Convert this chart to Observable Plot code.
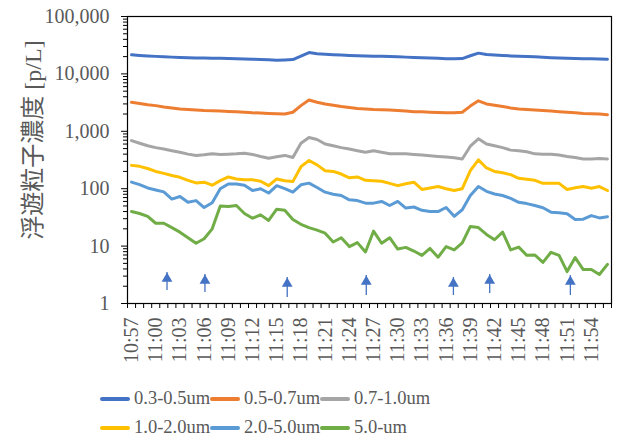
<!DOCTYPE html>
<html>
<head>
<meta charset="utf-8">
<script src="https://cdn.jsdelivr.net/npm/d3@7"></script>
<script src="https://cdn.jsdelivr.net/npm/@observablehq/plot@0.6"></script>
<style>
  html, body { margin: 0; padding: 0; background: #fff; }
  #wrap { position: relative; width: 621px; height: 441px; overflow: hidden; }
  #ytitle {
    position: absolute; left: 30px; top: 140px;
    transform: translate(-50%, -50%) rotate(-90deg);
    white-space: nowrap; font-family: "Liberation Serif", "Noto Sans CJK JP", serif;
    font-size: 24px; color: #595959;
  }
  #legend { position: absolute; left: 100px; top: 384px; font-family: "Liberation Serif", serif; font-size: 18.5px; color: #595959; white-space: nowrap; }
  .lrow { display: flex; height: 29px; align-items: center; }
  .litem { display: flex; align-items: center; width: 110px; flex: 0 0 110px; white-space: nowrap; }
  .sw { width: 30px; height: 4px; border-radius: 2px; margin-right: 4px; flex: 0 0 30px; }
</style>
</head>
<body>
<div id="wrap">
  <div id="chart"></div>
  <div id="ytitle">浮遊粒子濃度 [p/L]</div>
  <div id="legend"></div>
</div>
<script>
const times = ["10:57","10:58","10:59","11:00","11:01","11:02","11:03","11:04","11:05","11:06",
  "11:07","11:08","11:09","11:10","11:11","11:12","11:13","11:14","11:15","11:16",
  "11:17","11:18","11:19","11:20","11:21","11:22","11:23","11:24","11:25","11:26",
  "11:27","11:28","11:29","11:30","11:31","11:32","11:33","11:34","11:35","11:36",
  "11:37","11:38","11:39","11:40","11:41","11:42","11:43","11:44","11:45","11:46",
  "11:47","11:48","11:49","11:50","11:51","11:52","11:53","11:54","11:55","11:56"];

const seriesNames = ["0.3-0.5um", "0.5-0.7um", "0.7-1.0um", "1.0-2.0um", "2.0-5.0um", "5.0-um"];
const seriesColors = ["#4472C4", "#ED7D31", "#A5A5A5", "#FFC000", "#5B9BD5", "#70AD47"];

const s03_05 = [21500,21000,20600,20200,19900,19600,19400,19200,19000,18900,
  18800,18700,18600,18400,18200,18000,17800,17600,17300,17500,
  17800,20500,23500,22500,22000,21600,21300,21000,20800,20600,
  20400,20200,20000,19800,19600,19400,19200,19000,18700,18400,
  18300,18500,20700,23000,21700,21300,20900,20600,20300,20000,
  19800,19500,19200,19000,18800,18600,18400,18300,18100,18000];
const s05_07 = [3200,3050,2900,2800,2650,2550,2450,2400,2350,2300,
  2280,2250,2220,2200,2150,2100,2080,2050,2030,2000,
  2150,2800,3500,3200,3000,2850,2700,2600,2500,2450,
  2400,2380,2350,2300,2250,2200,2180,2150,2120,2100,
  2100,2150,2750,3400,3000,2850,2700,2550,2450,2400,
  2350,2300,2250,2200,2150,2100,2050,2020,2000,1950];
const s07_10 = [690,620,560,520,490,460,430,400,380,390,
  405,395,400,405,415,395,365,340,360,380,
  350,620,780,720,600,560,520,490,460,430,
  460,430,405,405,405,395,385,375,365,355,
  345,330,550,740,600,560,520,470,460,440,
  405,400,400,385,365,350,330,330,335,330];
const s10_20 = [255,245,225,200,185,170,158,140,126,130,
  115,138,160,148,143,143,135,113,148,138,
  133,242,310,260,206,200,180,155,160,140,
  138,135,124,113,122,130,97,103,109,100,
  93,100,206,318,230,200,190,176,152,146,
  140,124,124,124,97,104,109,102,109,93];
const s20_50 = [130,118,103,95,88,66,73,58,62,47,
  57,100,121,121,115,93,100,84,113,100,
  87,117,125,105,87,80,76,64,62,56,
  56,60,51,60,46,48,42,40,40,47,
  33,43,76,109,90,81,76,68,58,55,
  51,46.5,39,38,36.5,29,29.5,34,31,32.5];
const s50_up = [40,37,33,25,25,21,17.5,14,11.2,13.4,
  20,50,49,51,37,30.6,35,28,44,42,
  29,24,21,19,16.8,11.8,14,9.8,11.5,7.9,
  18.2,11.2,14,8.9,9.5,8.2,6.9,9.1,6.4,9.8,
  8.6,11.4,22,21,16,12.9,17.5,8.6,9.6,6.9,
  7,5.2,7.8,6.9,3.6,6.3,3.9,3.9,3.2,4.8];
const seriesValues = [s03_05, s05_07, s07_10, s10_20, s20_50, s50_up];

// y-axis tick values
const yMajorTicks = [1, 10, 100, 1000, 10000, 100000];
const yMinorMultipliers = [2, 3, 4, 5, 6, 7, 8, 9];
// x-axis: labelled every 3rd minute
const xLabelEvery = 3;

// blue arrows (position in minutes after 10:57, tip and base values)
const arrowPos  = [4.4, 9.1, 19.3, 29.1, 39.9, 44.4, 54.4];
const arrowTip  = [3.47, 3.20, 2.84, 3.07, 2.84, 3.20, 3.07];
const arrowBase = [1.68, 1.55, 1.27, 1.38, 1.38, 1.49, 1.38];

// build tables
const rows = [];
seriesNames.forEach((name, k) => seriesValues[k].forEach((v, i) => rows.push({i, v, s: name})));
const arrows = arrowPos.map((x, k) => ({x, tip: arrowTip[k], base: arrowBase[k]}));
const yMinor = [];
yMajorTicks.slice(0, -1).forEach(d => yMinorMultipliers.forEach(m => yMinor.push(d * m)));
const xLabelIdx = times.map((t, i) => i).filter(i => i % xLabelEvery === 0);
const xBoundaries = times.map((t, i) => i - 0.5).concat([times.length - 0.5]);

const chart = Plot.plot({
  width: 621,
  height: 378,
  marginLeft: 127,
  marginRight: 10,
  marginTop: 16,
  marginBottom: 75,
  style: {fontFamily: "Liberation Serif, serif", fontSize: "20px", color: "#595959", background: "white", overflow: "visible"},
  x: {type: "linear", domain: [-0.5, times.length - 0.5]},
  y: {type: "log", domain: [1, 100000]},
  color: {domain: seriesNames, range: seriesColors},
  marks: [
    Plot.axisY({ticks: yMinor, tickSize: 4, tickFormat: () => "", stroke: "black", label: null}),
    Plot.axisY({ticks: yMajorTicks, tickSize: 6, tickPadding: 12, tickFormat: d3.format(","), stroke: "black", fill: "#595959", label: null}),
    Plot.axisX({ticks: xBoundaries, tickSize: 5, tickFormat: () => "", stroke: "black", label: null}),
    Plot.axisX({ticks: xLabelIdx, tickSize: 0, tickPadding: 14, tickRotate: -90, tickFormat: i => times[i], fill: "#595959", label: null}),
    Plot.line(rows, {x: "i", y: "v", z: "s", stroke: "s", strokeWidth: 3, strokeLinejoin: "round", strokeLinecap: "round"}),
    Plot.ruleX(arrows, {x: "x", y1: "base", y2: "tip", stroke: "#4472C4", strokeWidth: 1.3}),
    Plot.dot(arrows, {x: "x", y: "tip", symbol: "triangle", r: 4, fill: "#4472C4", stroke: null, dy: 6.2}),
    Plot.frame({stroke: "black", strokeWidth: 1.2})
  ]
});
document.getElementById("chart").appendChild(chart);

// legend
const legend = document.getElementById("legend");
for (let r = 0; r < 2; r++) {
  const row = document.createElement("div");
  row.className = "lrow";
  for (let c = 0; c < 3; c++) {
    const k = r * 3 + c;
    const item = document.createElement("div");
    item.className = "litem";
    const sw = document.createElement("div");
    sw.className = "sw";
    sw.style.background = seriesColors[k];
    const tx = document.createElement("span");
    tx.textContent = seriesNames[k];
    item.appendChild(sw);
    item.appendChild(tx);
    row.appendChild(item);
  }
  legend.appendChild(row);
}
</script>
</body>
</html>
